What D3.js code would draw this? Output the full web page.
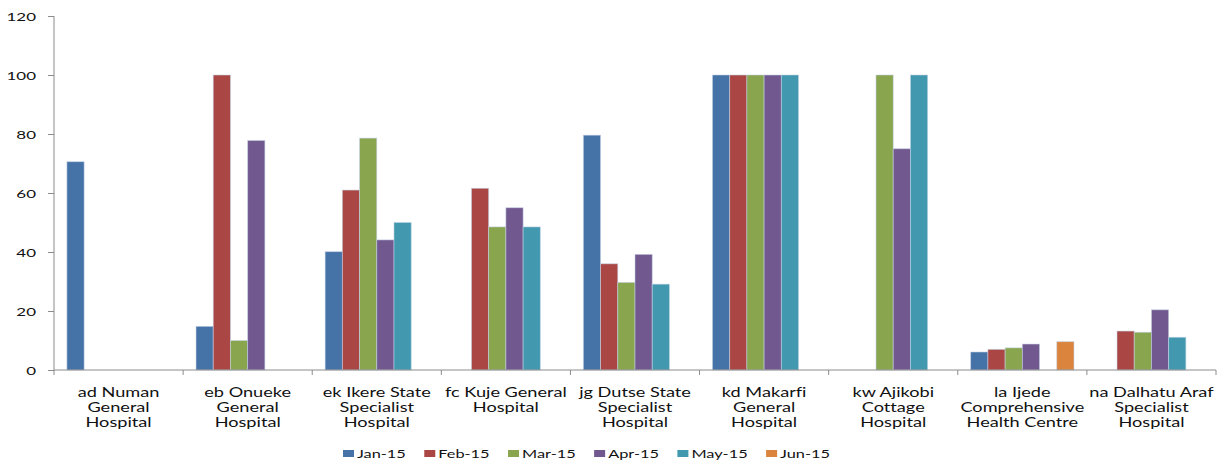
<!DOCTYPE html>
<html>
<head>
<meta charset="utf-8">
<script src="https://cdn.jsdelivr.net/npm/d3@7"></script>
<style>
  html, body { margin: 0; padding: 0; background: #fff; }
  svg { display: block; }
  text { font-family: Lato, "Open Sans", sans-serif; fill: #111; font-variant-ligatures: none; }
</style>
</head>
<body>
<svg id="chart" width="1227" height="462"></svg>
<script>
// Facilities (category axis); "\n" marks where each label wraps
const categories = [
  "ad Numan\nGeneral\nHospital",
  "eb Onueke\nGeneral\nHospital",
  "ek Ikere State\nSpecialist\nHospital",
  "fc Kuje General\nHospital",
  "jg Dutse State\nSpecialist\nHospital",
  "kd Makarfi\nGeneral\nHospital",
  "kw Ajikobi\nCottage\nHospital",
  "la Ijede\nComprehensive\nHealth Centre",
  "na Dalhatu Araf\nSpecialist\nHospital"
];

const months = ["Jan-15", "Feb-15", "Mar-15", "Apr-15", "May-15", "Jun-15"];
const colors = ["#4572A7", "#AA4643", "#89A54E", "#71588F", "#4198AF", "#DB843D"];

// One array per month, aligned with categories (null = no value reported)
const jan15 = [70.6, 14.8, 40.1, null, 79.6, 100, null, 6.1, null];
const feb15 = [null, 100, 61.0, 61.6, 36.0, 100, null, 7.0, 13.2];
const mar15 = [null, 10.0, 78.6, 48.5, 29.7, 100, 100, 7.5, 12.8];
const apr15 = [null, 77.8, 44.1, 55.0, 39.2, 100, 75.0, 8.8, 20.4];
const may15 = [null, null, 50.0, 48.5, 29.1, 100, 100, null, 11.1];
const jun15 = [null, null, null, null, null, null, null, 9.6, null];

const yTicks = [0, 20, 40, 60, 80, 100, 120];

const series = [jan15, feb15, mar15, apr15, may15, jun15];

const svg = d3.select("#chart");
const plot = { left: 54, right: 1216, top: 16, bottom: 370 };
const axisColor = "#8c8c8c";

const x0 = d3.scaleBand()
  .domain(d3.range(categories.length))
  .range([plot.left, plot.right])
  .paddingInner(0).paddingOuter(0);

// gap width 150% of a bar, split evenly on both sides of each group
const barW = x0.bandwidth() / (months.length + 1.5);
const x1 = d3.scaleBand()
  .domain(d3.range(months.length))
  .range([barW * 0.75, x0.bandwidth() - barW * 0.75])
  .padding(0);

const y = d3.scaleLinear().domain([0, 120]).range([plot.bottom, plot.top]);

// bars
const groups = svg.append("g").selectAll("g")
  .data(categories)
  .join("g")
  .attr("transform", (d, i) => `translate(${x0(i)},0)`);

groups.selectAll("rect")
  .data((d, i) => series.map((s, k) => ({ k, v: s[i] })).filter(e => e.v != null))
  .join("rect")
  .attr("x", e => x1(e.k))
  .attr("width", x1.bandwidth())
  .attr("y", e => y(e.v))
  .attr("height", e => y(0) - y(e.v))
  .attr("fill", e => colors[e.k])
  .attr("stroke", "#c4d3e6")
  .attr("stroke-opacity", 0.7)
  .attr("stroke-width", 0.8);

// y axis
const yAxis = svg.append("g")
  .attr("transform", `translate(${plot.left},0)`)
  .call(d3.axisLeft(y).tickValues(yTicks).tickSize(6).tickPadding(0).tickFormat(d3.format("d")));
yAxis.select(".domain").attr("stroke", axisColor).attr("d", `M0,${plot.top}V${plot.bottom + 1}`);
yAxis.selectAll(".tick line").attr("stroke", axisColor);

const ySx = 1.5;
yAxis.selectAll(".tick text")
  .attr("x", 0).attr("dy", null)
  .attr("dominant-baseline", "central")
  .attr("transform", `translate(-18,0) scale(${ySx},1)`)
  .style("font-size", "11.3px")
  .style("font-family", "Lato, sans-serif")
  .attr("fill", "#111");

// x axis: line with ticks at category boundaries
const xAxis = svg.append("g").attr("transform", `translate(0,${plot.bottom})`);
xAxis.append("line")
  .attr("x1", plot.left).attr("x2", plot.right)
  .attr("stroke", axisColor);
xAxis.selectAll("line.tk")
  .data(d3.range(categories.length + 1))
  .join("line")
  .attr("class", "tk")
  .attr("x1", i => i < categories.length ? x0(i) : plot.right)
  .attr("x2", i => i < categories.length ? x0(i) : plot.right)
  .attr("y1", 0).attr("y2", 5)
  .attr("stroke", axisColor);

// category labels
const labSx = 1.43;
const labels = svg.append("g").selectAll("text")
  .data(categories)
  .join("text")
  .attr("text-anchor", "middle")
  .attr("transform", (d, i) => `translate(${x0(i) + x0.bandwidth() / 2},396.7) scale(${labSx},1)`)
  .style("font-size", "12.7px");
labels.selectAll("tspan")
  .data(d => d.split("\n"))
  .join("tspan")
  .attr("x", 0)
  .attr("y", (d, j) => j * 15.3)
  .text(d => d);

// legend
const legSx = 1.42;
const legend = svg.append("g");
let lx = 343;
months.forEach((m, k) => {
  const g = legend.append("g").attr("transform", `translate(${lx},0)`);
  g.append("rect")
    .attr("x", 0).attr("y", 450).attr("width", 11).attr("height", 7)
    .attr("fill", colors[k]);
  const t = g.append("text")
    .attr("transform", `translate(14,453.5) scale(${legSx},1)`)
    .attr("dominant-baseline", "central")
    .style("font-size", "11.5px")
    .text(m);
  lx += 14 + t.node().getComputedTextLength() * legSx + 18.5;
});
</script>
</body>
</html>
